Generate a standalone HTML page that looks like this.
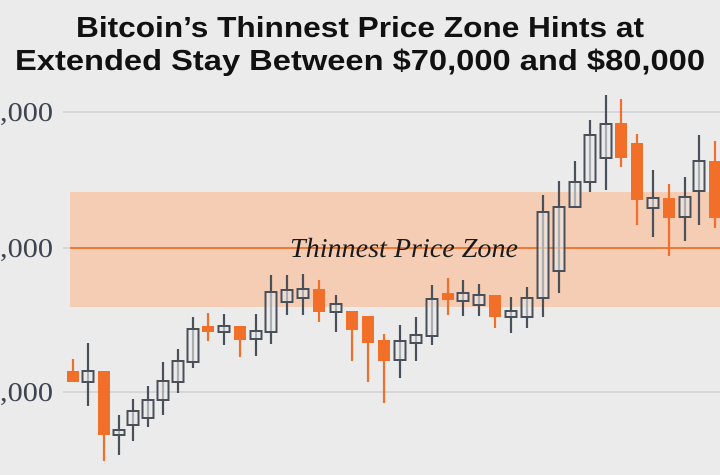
<!DOCTYPE html>
<html><head><meta charset="utf-8"><style>
html,body{margin:0;padding:0;background:#ebebeb;}
svg{display:block}
</style></head><body>
<svg id="s" width="720" height="475" viewBox="0 0 720 475" xmlns="http://www.w3.org/2000/svg">
<rect width="720" height="475" fill="#ebebeb"/>
<text x="360" y="37" text-anchor="middle" font-family="Liberation Sans, sans-serif" font-weight="bold" font-size="29" fill="#111" textLength="568" lengthAdjust="spacingAndGlyphs">Bitcoin’s Thinnest Price Zone Hints at</text>
<text x="360" y="70" text-anchor="middle" font-family="Liberation Sans, sans-serif" font-weight="bold" font-size="29" fill="#111" textLength="690" lengthAdjust="spacingAndGlyphs">Extended Stay Between $70,000 and $80,000</text>
<g stroke="#d4d6da" stroke-width="2">
<line x1="63" y1="112" x2="720" y2="112"/>
<line x1="63" y1="392" x2="720" y2="392"/>
<line x1="63" y1="248" x2="720" y2="248"/>
</g>
<g font-family="Liberation Serif, serif" font-size="27" fill="#3d4552">
<text x="53" y="121" text-anchor="end" textLength="53" lengthAdjust="spacingAndGlyphs">,000</text>
<text x="53" y="257" text-anchor="end" textLength="53" lengthAdjust="spacingAndGlyphs">,000</text>
<text x="53" y="401" text-anchor="end" textLength="53" lengthAdjust="spacingAndGlyphs">,000</text>
</g>
<rect x="70" y="192" width="650" height="115" fill="#f6c9ae" opacity="0.9"/>
<line x1="70" y1="248" x2="720" y2="248" stroke="#f07a35" stroke-width="2"/>
<text x="404" y="257" text-anchor="middle" font-family="Liberation Serif, serif" font-style="italic" font-size="27" fill="#1a1a1a" textLength="228" lengthAdjust="spacingAndGlyphs">Thinnest Price Zone</text>
<g id="c"></g>
</svg>
<script>
var d=[[73,359,382,371,382,'o'],[88,343,406,371,382,'g'],[104,371,461,371,435,'o'],[119,415,455,430,435,'g'],[133,399,441,411,425,'g'],[148,386,427,400,418,'g'],[163,362,415,381,400,'g'],[178,349,393,361,382,'g'],[193,317,368,329,362,'g'],[208,313,341,326,332,'o'],[224,314,345,326,332,'g'],[240,326,357,326,340,'o'],[256,314,356,331,339,'g'],[271,275,344,292,332,'g'],[287,275,315,290,302,'g'],[303,274,315,289,298,'g'],[319,280,322,289,312,'o'],[336,295,332,304,312,'g'],[352,311,361,311,330,'o'],[368,316,382,316,343,'o'],[384,334,403,340,361,'o'],[400,325,378,341,360,'g'],[416,317,361,335,343,'g'],[432,285,345,299,336,'g'],[448,278,315,293,300,'o'],[463,280,316,293,301,'g'],[479,284,316,295,305,'g'],[495,295,328,295,317,'o'],[511,297,333,311,317,'g'],[527,287,328,298,317,'g'],[543,195,317,212,298,'g'],[559,181,293,207,271,'g'],[575,161,207,182,207,'g'],[590,120,192,135,182,'g'],[606,95,190,124,158,'g'],[621,99,167,123,158,'o'],[637,134,225,143,200,'o'],[653,170,237,198,208,'g'],[669,184,256,198,218,'o'],[685,177,241,197,217,'g'],[699,135,225,161,191,'g'],[715,141,228,161,218,'o']];
var h='';
d.forEach(function(c){var x=c[0],col=c[5]=='o'?'#f26f2a':'#4a505a';
h+='<line x1="'+x+'" y1="'+c[1]+'" x2="'+x+'" y2="'+c[2]+'" stroke="'+col+'" stroke-width="2.2"/>';
if(c[5]=='o')h+='<rect x="'+(x-6)+'" y="'+c[3]+'" width="12" height="'+Math.max(3,c[4]-c[3])+'" fill="#f26f2a"/>';
else h+='<rect x="'+(x-5.5)+'" y="'+c[3]+'" width="11" height="'+Math.max(3,c[4]-c[3])+'" fill="#ebebeb" fill-opacity="0.6" stroke="#4a505a" stroke-width="2"/>';});
document.getElementById('c').innerHTML=h;
</script>
</body></html>
